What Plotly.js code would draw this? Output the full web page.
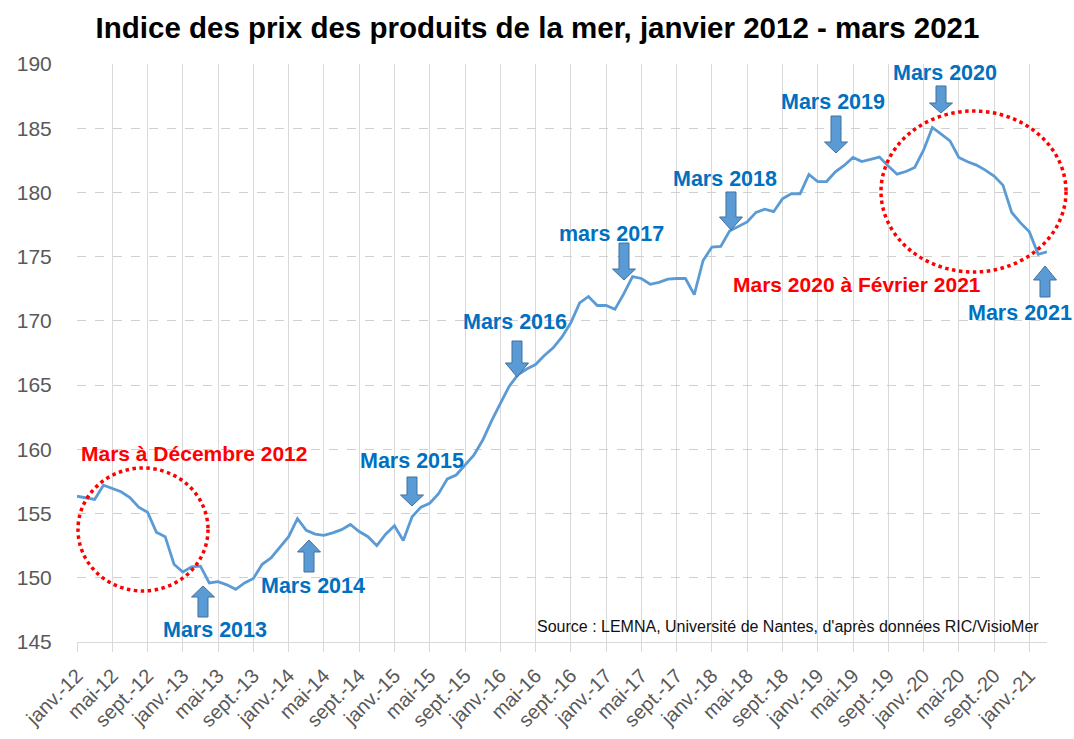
<!DOCTYPE html>
<html>
<head>
<meta charset="utf-8">
<script src="https://cdn.plot.ly/plotly-3.0.1.min.js"></script>
<style>html,body{margin:0;padding:0;background:#fff;}#chart{width:1074px;height:739px;}</style>
</head>
<body>
<div id="chart"></div>
<script>
// Monthly index, janv. 2012 .. mars 2021
const monthNames = ["janv.", "févr.", "mars", "avr.", "mai", "juin", "juil.", "août", "sept.", "oct.", "nov.", "déc."];
const indexValues = [
  156.35, 156.25, 156.1, 157.2, 156.95, 156.7, 156.25, 155.5, 155.1, 153.55, 153.2, 151.05,
  150.45, 150.85, 150.9, 149.6, 149.7, 149.45, 149.1, 149.6, 149.95, 151.05, 151.55, 152.4,
  153.2, 154.6, 153.7, 153.4, 153.3, 153.5, 153.75, 154.15, 153.6, 153.2, 152.5, 153.4,
  154.05, 152.9, 154.75, 155.5, 155.8, 156.55, 157.7, 158.0, 158.75, 159.55, 160.7, 162.2,
  163.55, 164.9, 165.8, 166.25, 166.6, 167.3, 167.9, 168.75, 169.85, 171.4, 171.9, 171.2,
  171.2, 170.9, 172.1, 173.45, 173.3, 172.85, 173.0, 173.25, 173.3, 173.3, 172.05, 174.7,
  175.75, 175.8, 177.0, 177.35, 177.7, 178.45, 178.7, 178.5, 179.5, 179.9, 179.9, 181.4,
  180.85, 180.85, 181.6, 182.1, 182.73, 182.4, 182.55, 182.75, 182.05, 181.42, 181.63, 181.95,
  183.29, 185.06, 184.54, 184.02, 182.73, 182.39, 182.13, 181.74, 181.27, 180.57, 178.44, 177.63,
  176.93, 175.19, 175.37
];
const tickLabels = [
  "janv.-12", "mai-12", "sept.-12", "janv.-13", "mai-13", "sept.-13", "janv.-14", "mai-14",
  "sept.-14", "janv.-15", "mai-15", "sept.-15", "janv.-16", "mai-16", "sept.-16", "janv.-17",
  "mai-17", "sept.-17", "janv.-18", "mai-18", "sept.-18", "janv.-19", "mai-19", "sept.-19",
  "janv.-20", "mai-20", "sept.-20", "janv.-21"
];
const blueNotes = ["Mars 2013", "Mars 2014", "Mars 2015", "Mars 2016", "mars 2017", "Mars 2018", "Mars 2019", "Mars 2020", "Mars 2021"];
const redNotes = ["Mars à Décembre 2012", "Mars 2020 à Février 2021"];
const sourceText = "Source : LEMNA, Université de Nantes, d'après données RIC/VisioMer";

const xIdx = indexValues.map((_, i) => i);
const monthText = indexValues.map((_, i) => monthNames[i % 12] + " " + (2012 + Math.floor(i / 12)));
const tickPos = tickLabels.map((_, k) => k * 4);

// layout geometry (pixels)
const W = 1074, H = 739;
const L = 77, R = 27, T = 64, B = 97;
const pw = W - L - R, ph = H - T - B;
const px = x => (x - L) / pw;
const py = y => (H - B - y) / ph;

function blockArrow(cx, tipY, baseY, endY) {
  const sw = 5, hw = 11.5;
  const pts = [[cx, tipY], [cx + hw, baseY], [cx + sw, baseY], [cx + sw, endY], [cx - sw, endY], [cx - sw, baseY], [cx - hw, baseY]];
  return {
    type: "path", xref: "paper", yref: "paper",
    path: "M" + pts.map(p => px(p[0]).toFixed(5) + "," + py(p[1]).toFixed(5)).join(" L") + " Z",
    fillcolor: "#5B9BD5", line: {color: "#41719C", width: 1}, layer: "above"
  };
}
function dottedEllipse(x0, y0, x1, y1) {
  return {type: "circle", xref: "paper", yref: "paper", x0: px(x0), x1: px(x1), y0: py(y1), y1: py(y0),
    line: {color: "#FF0000", width: 3.5, dash: "dot"}, layer: "above"};
}

const shapes = [
  dottedEllipse(78, 468, 208, 591),
  dottedEllipse(881, 111, 1066, 272),
  blockArrow(203, 586, 597, 617),
  blockArrow(309, 540, 552, 572),
  blockArrow(412, 506, 495, 477),
  blockArrow(517, 377, 363, 341),
  blockArrow(624, 280, 269, 243),
  blockArrow(731, 230, 217, 192),
  blockArrow(836, 153, 142, 116),
  blockArrow(941, 113, 103, 86),
  blockArrow(1045, 266, 280, 297)
];

const blueFont = {family: "Liberation Sans, Arial, sans-serif", size: 21.5, color: "#0070C0", weight: "bold"};
const redFont = {family: "Liberation Sans, Arial, sans-serif", size: 21, color: "#FF0000", weight: "bold"};
function note(text, x, y, font) {
  return {text: "<b>" + text + "</b>", xref: "paper", yref: "paper", x: px(x), y: py(y),
    xanchor: "center", yanchor: "middle", showarrow: false, font: font};
}
const bluePos = [[215, 630], [313, 586], [412, 461], [515, 322], [611, 234], [725, 179], [833, 102], [945, 73], [1020, 313]];
const redPos = [[194, 453], [857, 284]];
const annotations = blueNotes.map((t, k) => note(t, bluePos[k][0], bluePos[k][1], blueFont))
  .concat(redNotes.map((t, k) => note(t, redPos[k][0], redPos[k][1], redFont)));
annotations.push({text: sourceText, xref: "paper", yref: "paper", x: px(788), y: py(626),
  xanchor: "center", yanchor: "middle", showarrow: false,
  font: {family: "Liberation Sans, Arial, sans-serif", size: 16, color: "#111"}});

const trace = {
  x: xIdx, y: indexValues, text: monthText, type: "scatter", mode: "lines",
  line: {color: "#5B9BD5", width: 2.8}, hovertemplate: "%{text}: %{y}<extra></extra>"
};

const layout = {
  width: W, height: H,
  margin: {l: L, r: R, t: T, b: B, pad: 0},
  paper_bgcolor: "#fff", plot_bgcolor: "#fff",
  showlegend: false,
  title: {text: "<b>Indice des prix des produits de la mer, janvier 2012 - mars 2021</b>",
    x: 537.5 / W, xref: "container", xanchor: "center", y: 1 - 28 / H, yref: "container", yanchor: "middle",
    font: {family: "Liberation Sans, Arial, sans-serif", size: 29.5, color: "#000"}},
  xaxis: {
    range: [0, 110], tickvals: tickPos, ticktext: tickLabels, tickangle: -45,
    showgrid: true, gridcolor: "#d9d9d9", gridwidth: 1,
    showline: true, linecolor: "#d9d9d9", linewidth: 1,
    ticks: "outside", ticklen: 9, tickcolor: "#d9d9d9",
    ticklabelstandoff: 4,
    tickfont: {family: "Liberation Sans, Arial, sans-serif", size: 20, color: "#595959"},
    zeroline: false, fixedrange: true
  },
  yaxis: {
    range: [145, 190], tickvals: [145, 150, 155, 160, 165, 170, 175, 180, 185, 190],
    showgrid: true, gridcolor: "#d0d0d0", gridwidth: 1, griddash: "dash",
    showline: false, zeroline: false,
    ticks: "outside", ticklen: 20, tickcolor: "rgba(0,0,0,0)",
    tickfont: {family: "Liberation Sans, Arial, sans-serif", size: 21, color: "#595959"},
    fixedrange: true
  },
  shapes: shapes,
  annotations: annotations
};

Plotly.newPlot("chart", [trace], layout, {displayModeBar: false, staticPlot: true});
</script>
</body>
</html>
